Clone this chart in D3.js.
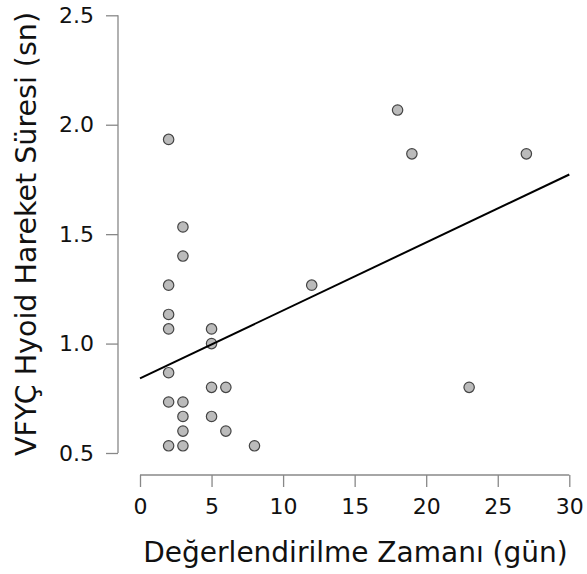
<!DOCTYPE html>
<html><head><meta charset="utf-8">
<script src="https://cdn.jsdelivr.net/npm/d3@7"></script>
<style>body{margin:0;background:#fff}</style>
</head><body>
<svg id="c" width="587" height="574"></svg>
<script>
const xValues = [2,3,3,2,2,2,5,5,2,5,6,2,3,3,5,3,6,2,3,8,12,23,18,19,27];
const yValues = [1.933,1.533,1.40,1.267,1.133,1.067,1.067,1.0,0.867,0.8,0.8,0.733,0.733,0.667,0.667,0.6,0.6,0.533,0.533,0.533,1.267,0.8,2.067,1.867,1.867];
const xTicks = [0,5,10,15,20,25,30];
const yTicks = [0.5,1.0,1.5,2.0,2.5];
const xLabel = "Değerlendirilme Zamanı (gün)";
const yLabel = "VFYÇ Hyoid Hareket Süresi (sn)";

const font = "'DejaVu Sans', sans-serif";
const svg = d3.select("#c");
const x = d3.scaleLinear().domain([0,30]).range([140,569.3]);
const y = d3.scaleLinear().domain([0.5,2.5]).range([453,15.3]);

// regression
const n = xValues.length;
const mx = d3.mean(xValues), my = d3.mean(yValues);
let sxy=0, sxx=0;
for(let i=0;i<n;i++){sxy+=(xValues[i]-mx)*(yValues[i]-my); sxx+=(xValues[i]-mx)**2;}
const slope = sxy/sxx, intercept = my - slope*mx;

// axes
const xAxis = svg.append("g").attr("transform","translate(0,475)")
  .call(d3.axisBottom(x).tickValues(xTicks).tickSize(12).tickPadding(11).tickFormat(d3.format("d")));
const yAxis = svg.append("g").attr("transform","translate(118,0)")
  .call(d3.axisLeft(y).tickValues(yTicks).tickSize(12).tickPadding(12).tickFormat(d3.format(".1f")));
[xAxis,yAxis].forEach(g=>{
  g.select(".domain").attr("stroke","#888").attr("stroke-width",1.3)
   .attr("d", g===xAxis ? `M${x(0)},0H${x(30)}` : `M0,${y(0.5)}V${y(2.5)}`);
  g.selectAll(".tick line").attr("stroke","#888").attr("stroke-width",1.3);
  g.selectAll(".tick text").attr("fill","#111").style("font-family",font).style("font-size","22px");
});

// points
svg.append("g").selectAll("circle").data(xValues.map((v,i)=>[v,yValues[i]])).join("circle")
  .attr("cx",d=>x(d[0])).attr("cy",d=>y(d[1])).attr("r",5.2)
  .attr("fill","#bbbbbb").attr("stroke","#444").attr("stroke-width",1.2);

// regression line
svg.append("line").attr("x1",x(0)).attr("y1",y(intercept))
  .attr("x2",x(30)).attr("y2",y(intercept+slope*30))
  .attr("stroke","#000").attr("stroke-width",2);

// labels
svg.append("text").attr("x",355.5).attr("y",562).attr("text-anchor","middle")
  .style("font-family",font).style("font-size","28px").attr("fill","#111").text(xLabel);
svg.append("text").attr("transform","translate(36,234) rotate(-90)").attr("text-anchor","middle")
  .style("font-family",font).style("font-size","28.5px").attr("fill","#111").text(yLabel);
</script>
</body></html>
